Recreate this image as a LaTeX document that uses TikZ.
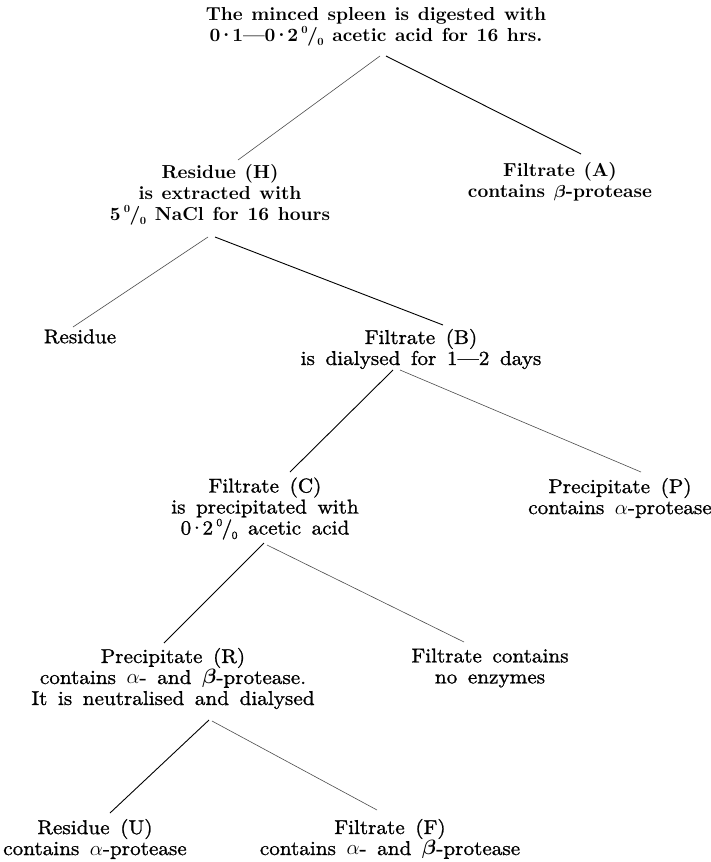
\documentclass[tikz,border=0pt]{standalone}
\usepackage{fontspec}
\newfontfamily\regf{lmroman10-regular.otf}[Ligatures=TeX, FakeStretch=1.06, FakeBold=1.1, WordSpace=1.5]
\newfontfamily\boldf{lmroman10-bold.otf}[Ligatures=TeX, WordSpace=1.2]
\newcommand\pct{\raisebox{0.42em}{\fontsize{11}{11}\selectfont 0}\kern-0.03em/\kern-0.03em\raisebox{-0.22em}{\fontsize{11}{11}\selectfont 0}}
\newcommand\md{\kern-0.13em·\kern-0.13em}
\newcommand\bbeta{{\boldmath$\beta$}}
\tikzset{
  lbl/.style={align=center, inner sep=0pt, font=\regf\fontsize{20}{21}\selectfont},
  blbl/.style={align=center, inner sep=0pt, font=\boldf\fontsize{18.8}{21}\selectfont\boldmath},
  link/.style={line width=0.9pt, black},
  faint/.style={line width=0.6pt, black!70}
}
\begin{document}
\begin{tikzpicture}[x=1pt,y=-1pt]
\useasboundingbox[fill=white] (0,0) rectangle (711,862);
\node[blbl] (top) at (376,27) {The minced spleen is digested with\\ 0\md 1---0\md 2\,\pct{} acetic acid for 16 hrs.};
\node[blbl] (H) at (220,194.5) {Residue (H)\\ is extracted with\\ 5\,\pct{} NaCl for 16 hours};
\node[blbl] (A) at (560,182) {Filtrate (A)\\ contains $\beta$-protease};
\node[lbl] (res) at (80,336.5) {Residue};
\node[lbl] (B) at (421,349) {Filtrate (B)\\ is dialysed for 1---2 days};
\node[lbl] (C) at (265,508.5) {Filtrate (C)\\ is precipitated with\\ 0\md 2\,\pct{} acetic acid};
\node[lbl] (P) at (620,498) {Precipitate (P)\\ contains $\alpha$-protease};
\node[lbl] (R) at (173,678.5) {Precipitate (R)\\ contains $\alpha$- and \bbeta-protease.\\ It is neutralised and dialysed};
\node[lbl] (N) at (490,668) {Filtrate contains\\ no enzymes};
\node[lbl] (U) at (95,839) {Residue (U)\\ contains $\alpha$-protease};
\node[lbl] (F) at (390,839) {Filtrate (F)\\ contains $\alpha$- and \bbeta-protease};
\draw[faint] ([xshift=4pt,yshift=-29pt]top.center) -- ([xshift=18pt,yshift=34.5pt]H.center);
\draw[link] ([xshift=10pt,yshift=-29pt]top.center) -- ([xshift=21pt,yshift=28pt]A.center);
\draw[faint] ([xshift=-12pt,yshift=-42.5pt]H.center) -- ([xshift=-7pt,yshift=9.5pt]res.center);
\draw[link] ([xshift=-5pt,yshift=-42.5pt]H.center) -- ([xshift=22pt,yshift=24pt]B.center);
\draw[link] ([xshift=-28pt,yshift=-21pt]B.center) -- ([xshift=25pt,yshift=36.5pt]C.center);
\draw[faint] ([xshift=-21pt,yshift=-21pt]B.center) -- ([xshift=21pt,yshift=26pt]P.center);
\draw[link] ([xshift=-1pt,yshift=-34.5pt]C.center) -- ([xshift=-9pt,yshift=35.5pt]R.center);
\draw[faint] ([xshift=2pt,yshift=-36.5pt]C.center) -- ([xshift=-26pt,yshift=26pt]N.center);
\draw[link] ([xshift=36pt,yshift=-41.5pt]R.center) -- ([xshift=15pt,yshift=26pt]U.center);
\draw[faint] ([xshift=39pt,yshift=-42.5pt]R.center) -- ([xshift=-13pt,yshift=29pt]F.center);
\end{tikzpicture}
\end{document}
